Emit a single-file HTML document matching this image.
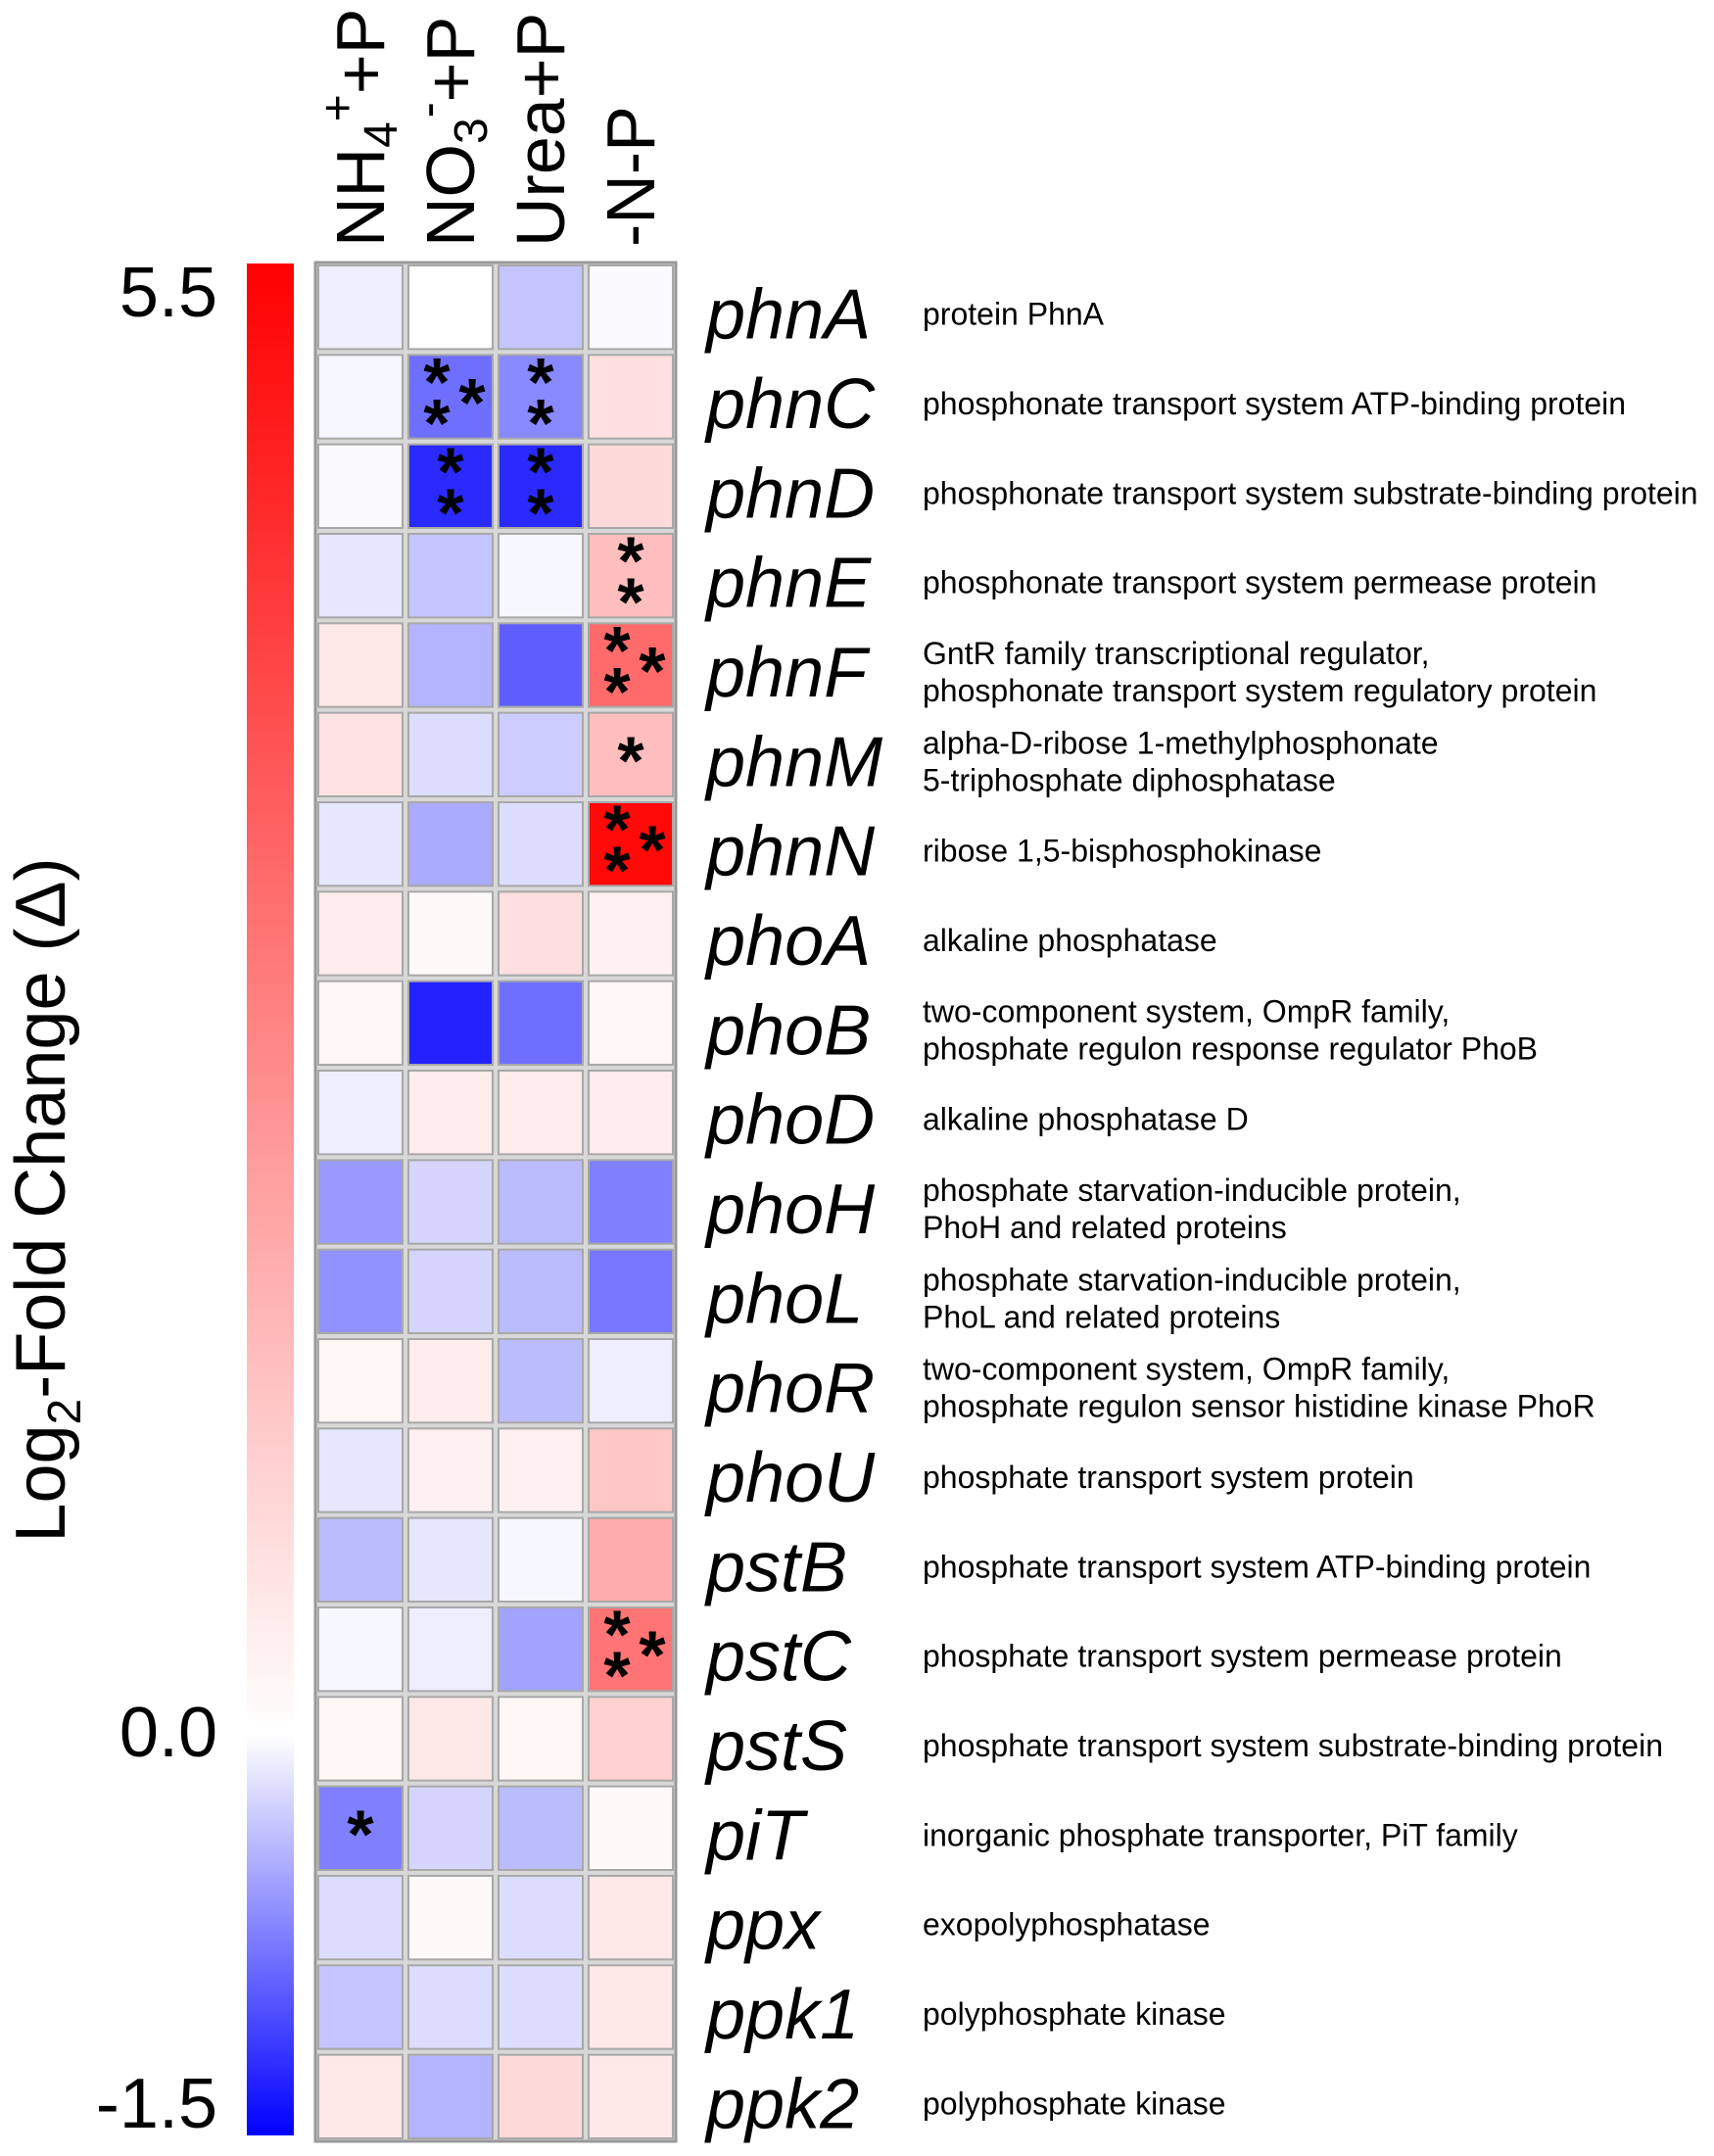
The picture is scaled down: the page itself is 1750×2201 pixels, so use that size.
<!DOCTYPE html>
<html><head><meta charset="utf-8"><style>
html,body{margin:0;padding:0;background:#fff;}
svg{display:block;font-family:"Liberation Sans",Arial,sans-serif;}
</style></head><body>
<svg id="chart" width="1750" height="2201" viewBox="0 0 1750 2201">
<defs>
<linearGradient id="cbar" x1="0" y1="0" x2="0" y2="1">
<stop offset="0" stop-color="#ff0000"/>
<stop offset="0.786" stop-color="#ffffff"/>
<stop offset="1" stop-color="#0000ff"/>
</linearGradient>
</defs>
<rect x="252" y="269" width="48" height="1911" fill="url(#cbar)"/>
<text x="222" y="323" font-size="72" text-anchor="end">5.5</text>
<text x="222" y="1793" font-size="72" text-anchor="end">0.0</text>
<text x="222" y="2172" font-size="72" text-anchor="end">-1.5</text>
<text transform="translate(66,1225) rotate(-90)" font-size="72" text-anchor="middle">Log<tspan font-size="48" dy="16">2</tspan><tspan dy="-16">-Fold Change (Δ)</tspan></text>
<g id="cols"></g>
<g id="cells"></g>
<g id="labels"></g>
</svg>
<script>
const conditions = ["NH4+P","NO3+P","Urea+P","-N-P"];
const genes = ["phnA","phnC","phnD","phnE","phnF","phnM","phnN","phoA","phoB","phoD","phoH","phoL","phoR","phoU","pstB","pstC","pstS","piT","ppx","ppk1","ppk2"];
const descriptions = [
 ["protein PhnA"],
 ["phosphonate transport system ATP-binding protein"],
 ["phosphonate transport system substrate-binding protein"],
 ["phosphonate transport system permease protein"],
 ["GntR family transcriptional regulator,","phosphonate transport system regulatory protein"],
 ["alpha-D-ribose 1-methylphosphonate","5-triphosphate diphosphatase"],
 ["ribose 1,5-bisphosphokinase"],
 ["alkaline phosphatase"],
 ["two-component system, OmpR family,","phosphate regulon response regulator PhoB"],
 ["alkaline phosphatase D"],
 ["phosphate starvation-inducible protein,","PhoH and related proteins"],
 ["phosphate starvation-inducible protein,","PhoL and related proteins"],
 ["two-component system, OmpR family,","phosphate regulon sensor histidine kinase PhoR"],
 ["phosphate transport system protein"],
 ["phosphate transport system ATP-binding protein"],
 ["phosphate transport system permease protein"],
 ["phosphate transport system substrate-binding protein"],
 ["inorganic phosphate transporter, PiT family"],
 ["exopolyphosphatase"],
 ["polyphosphate kinase"],
 ["polyphosphate kinase"]
];
const valNH4  = [-0.1,-0.05,-0.03,-0.15,0.5,0.6,-0.15,0.4,0.2,-0.1,-0.6,-0.65,0.2,-0.15,-0.4,-0.05,0.2,-0.75,-0.2,-0.35,0.5];
const valNO3  = [0.02,-0.85,-1.25,-0.35,-0.45,-0.2,-0.5,0.1,-1.3,0.4,-0.25,-0.25,0.4,0.3,-0.15,-0.1,0.5,-0.25,0.1,-0.2,-0.45];
const valUrea = [-0.35,-0.7,-1.25,-0.05,-0.95,-0.3,-0.2,0.7,-0.85,0.4,-0.4,-0.4,-0.4,0.3,-0.05,-0.55,0.2,-0.4,-0.2,-0.2,0.8];
const valNP   = [-0.03,0.7,0.8,1.4,3.2,1.4,5.3,0.3,0.2,0.4,-0.75,-0.8,-0.1,1.2,1.8,3.0,1.0,0.1,0.5,0.5,0.5];
const starsNH4  = [0,0,0,0,0,0,0,0,0,0,0,0,0,0,0,0,0,1,0,0,0];
const starsNO3  = [0,3,2,0,0,0,0,0,0,0,0,0,0,0,0,0,0,0,0,0,0];
const starsUrea = [0,2,2,0,0,0,0,0,0,0,0,0,0,0,0,0,0,0,0,0,0];
const starsNP   = [0,0,0,2,3,1,3,0,0,0,0,0,0,0,0,3,0,0,0,0,0];
const vmin=-1.5, vmax=5.5;
const series=[valNH4,valNO3,valUrea,valNP];
const stars=[starsNH4,starsNO3,starsUrea,starsNP];
const NS="http://www.w3.org/2000/svg";
const gx0=322, gx1=690, gy0=268, gy1=2186;
const cw=(gx1-gx0)/conditions.length, rh=(gy1-gy0)/genes.length;
const xPos=i=>gx0+i*cw, yPos=j=>gy0+j*rh;
function color(v){
  let r,g,b;
  if(v>=0){const f=Math.min(1,v/vmax);r=255;g=Math.round(255*(1-f));b=g;}
  else{const f=Math.min(1,-v/(-vmin));b=255;r=Math.round(255*(1-f));g=r;}
  return `rgb(${r},${g},${b})`;
}
function mk(tag,attrs,parent){const e=document.createElementNS(NS,tag);for(const k in attrs)e.setAttribute(k,attrs[k]);parent.appendChild(e);return e;}
const cells=document.getElementById('cells');
mk('rect',{x:gx0,y:gy0,width:gx1-gx0,height:gy1-gy0,fill:'#d8d8d8',stroke:'#999',"stroke-width":3},cells);
series.forEach((vals,i)=>{
  vals.forEach((v,j)=>{
    const r=mk('rect',{x:xPos(i)+3,y:yPos(j)+3,width:cw-6,height:rh-6,fill:color(v),stroke:'#a8a8a8',"stroke-width":2},cells);
    
    
    const n=stars[i][j];
    const cx=xPos(i)+cw/2, cy=yPos(j)+rh/2;
    let pts=[];
    if(n===1)pts=[[cx,cy]];
    if(n===2)pts=[[cx,cy-21],[cx,cy+21]];
    if(n===3)pts=[[cx-14,cy-21],[cx-14,cy+21],[cx+22,cy]];
    pts.forEach(p=>{
      const t=mk('text',{x:p[0],y:p[1]+30,"font-size":70,"font-weight":"bold","text-anchor":"middle"},cells);
      t.textContent='*';
      
      
    });
  });
});
const cols=document.getElementById('cols');
const headerHTML=[
 'NH<tspan font-size="48" dy="13">4</tspan><tspan font-size="48" dy="-44">+</tspan><tspan dy="31">+P</tspan>',
 'NO<tspan font-size="48" dy="13">3</tspan><tspan font-size="48" dy="-44">-</tspan><tspan dy="31">+P</tspan>',
 'Urea+P','-N-P'];
conditions.forEach((c,i)=>{
  const cx=xPos(i)+cw/2+24;
  const t=mk('text',{transform:`translate(${cx},252) rotate(-90)`,"font-size":70},cols);
  t.innerHTML=headerHTML[i];
  
  
});
const labels=document.getElementById('labels');
genes.forEach((g,j)=>{
  const cy=yPos(j)+rh/2;
  const t=mk('text',{x:721,y:cy+32,"font-size":72,"font-style":"italic"},labels);
  t.textContent=g;
  
  
  const d=descriptions[j];
  d.forEach((line,k)=>{
    const off=d.length===1?0:(k===0?-19:19);
    const tt=mk('text',{x:942,y:cy+off+18,"font-size":32},labels);
    tt.textContent=line;
    
    
  });
});
</script>
</body></html>
